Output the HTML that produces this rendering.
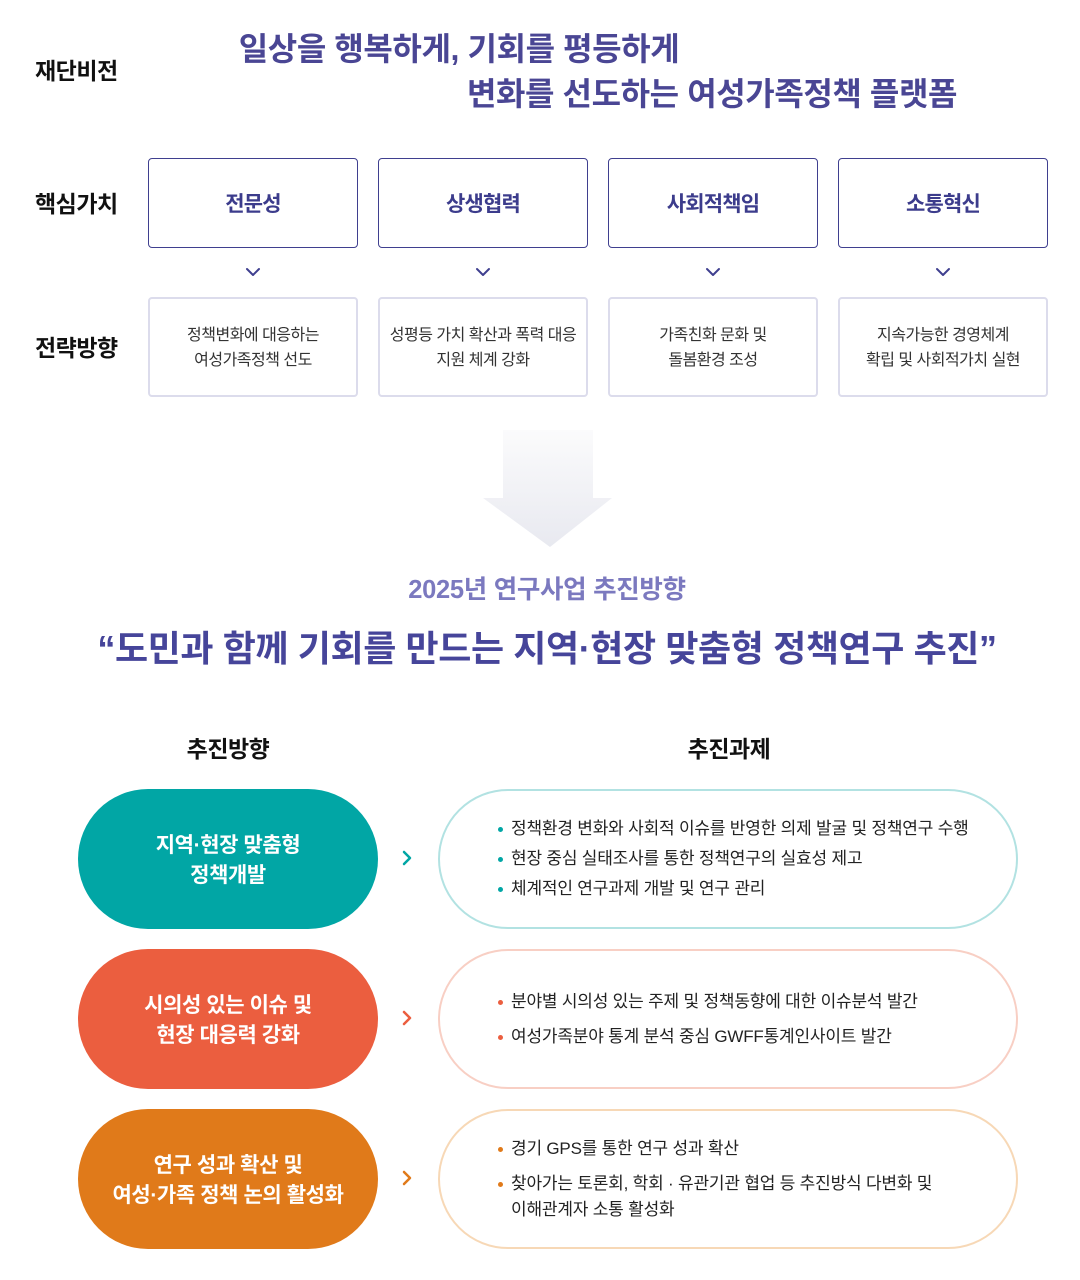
<!DOCTYPE html>
<html><head><meta charset="utf-8"><style>
*{margin:0;padding:0;box-sizing:border-box}
body{width:1080px;height:1280px;background:#fff;position:relative;overflow:hidden;font-family:"Liberation Sans","Noto Sans CJK KR",sans-serif;color:#222}
.a{position:absolute;white-space:nowrap}
.lbl{font-size:23px;font-weight:700;color:#111;letter-spacing:-0.5px;line-height:30px}
.vis{font-size:32px;font-weight:700;color:#4a4694;line-height:40px;text-align:center;letter-spacing:-0.4px}
.vbox{position:absolute;top:158px;width:210px;height:90px;border:1.5px solid #3f3f8f;border-radius:4px;display:flex;align-items:center;justify-content:center;font-size:21px;font-weight:700;color:#3c3c8c;letter-spacing:-0.8px;padding-bottom:1px}
.sbox{position:absolute;top:297px;width:210px;height:100px;border:2px solid #dcdcec;border-radius:4px;text-align:center;font-size:16px;line-height:25px;color:#333;letter-spacing:-0.5px;padding-top:24px}
.pill{position:absolute;left:78px;width:300px;height:140px;border-radius:70px;color:#fff;font-size:21px;font-weight:700;line-height:30px;text-align:center;display:flex;align-items:center;justify-content:center;letter-spacing:-0.4px;padding-top:4px}
.rp{position:absolute;left:438px;width:580px;height:140px;border-radius:70px;border:2px solid}
.li{position:absolute;left:511px;font-size:17px;line-height:24px;color:#222;letter-spacing:-0.2px;white-space:nowrap}
.dot{position:absolute;left:498px;width:5px;height:5px;border-radius:50%}
</style></head><body>

<div class="a lbl" style="left:35px;top:56px">재단비전</div>
<div class="a vis" style="left:159px;width:600px;top:29px">일상을 행복하게, 기회를 평등하게</div>
<div class="a vis" style="left:362px;width:700px;top:74px">변화를 선도하는 여성가족정책 플랫폼</div>

<div class="a lbl" style="left:35px;top:189px">핵심가치</div>
<div class="a lbl" style="left:35px;top:333px">전략방향</div>

<div class="vbox" style="left:148px">전문성</div>
<div class="vbox" style="left:378px">상생협력</div>
<div class="vbox" style="left:608px">사회적책임</div>
<div class="vbox" style="left:838px">소통혁신</div>

<svg class="a" style="left:0;top:0" width="1080" height="600">
<defs><linearGradient id="g" x1="0" y1="0" x2="0" y2="1"><stop offset="0" stop-color="#fbfbfc"/><stop offset="1" stop-color="#e8e9f0"/></linearGradient></defs>
<g fill="none" stroke="#3f3f8f" stroke-width="2" stroke-linecap="round" stroke-linejoin="round">
<polyline points="247,269 253,275 259,269"/>
<polyline points="477,269 483,275 489,269"/>
<polyline points="707,269 713,275 719,269"/>
<polyline points="937,269 943,275 949,269"/>
</g>
<polygon points="503,430 593,430 593,498 612,498 550,547 483,498 503,498" fill="url(#g)"/>
</svg>

<div class="sbox" style="left:148px">정책변화에 대응하는<br>여성가족정책 선도</div>
<div class="sbox" style="left:378px">성평등 가치 확산과 폭력 대응<br>지원 체계 강화</div>
<div class="sbox" style="left:608px">가족친화 문화 및<br>돌봄환경 조성</div>
<div class="sbox" style="left:838px">지속가능한 경영체계<br>확립 및 사회적가치 실현</div>

<div class="a" style="left:247px;width:600px;top:574px;text-align:center;font-size:25.5px;font-weight:700;color:#7b79bf;line-height:32px;letter-spacing:-0.3px">2025년 연구사업 추진방향</div>
<div class="a" style="left:-3px;width:1100px;top:627px;text-align:center;font-size:36px;font-weight:700;color:#46459a;line-height:44px;letter-spacing:-0.4px">“도민과 함께 기회를 만드는 지역·현장 맞춤형 정책연구 추진”</div>

<div class="a lbl" style="left:128px;width:200px;top:734px;text-align:center">추진방향</div>
<div class="a lbl" style="left:629px;width:200px;top:734px;text-align:center">추진과제</div>

<div class="pill" style="top:789px;background:#01a6a5">지역·현장 맞춤형<br>정책개발</div>
<div class="pill" style="top:949px;background:#eb5e3f">시의성 있는 이슈 및<br>현장 대응력 강화</div>
<div class="pill" style="top:1109px;background:#e07a1a">연구 성과 확산 및<br>여성·가족 정책 논의 활성화</div>

<svg class="a" style="left:0;top:0" width="1080" height="1280">
<g fill="none" stroke-width="2.5" stroke-linecap="round" stroke-linejoin="round">
<polyline points="404,852 410,858 404,864" stroke="#01a6a5"/>
<polyline points="404,1012 410,1018 404,1024" stroke="#eb5e3f"/>
<polyline points="404,1172 410,1178 404,1184" stroke="#e07a1a"/>
</g>
</svg>

<div class="rp" style="top:789px;border-color:#b2e2e2"></div>
<div class="rp" style="top:949px;border-color:#f8cfc4"></div>
<div class="rp" style="top:1109px;border-color:#f7d8b6"></div>

<div class="dot" style="top:827px;background:#01a6a5"></div>
<div class="li" style="top:817px">정책환경 변화와 사회적 이슈를 반영한 의제 발굴 및 정책연구 수행</div>
<div class="dot" style="top:857px;background:#01a6a5"></div>
<div class="li" style="top:847px">현장 중심 실태조사를 통한 정책연구의 실효성 제고</div>
<div class="dot" style="top:887px;background:#01a6a5"></div>
<div class="li" style="top:877px">체계적인 연구과제 개발 및 연구 관리</div>

<div class="dot" style="top:1000px;background:#eb5e3f"></div>
<div class="li" style="top:990px">분야별 시의성 있는 주제 및 정책동향에 대한 이슈분석 발간</div>
<div class="dot" style="top:1035px;background:#eb5e3f"></div>
<div class="li" style="top:1025px">여성가족분야 통계 분석 중심 GWFF통계인사이트 발간</div>

<div class="dot" style="top:1147px;background:#e07a1a"></div>
<div class="li" style="top:1137px">경기 GPS를 통한 연구 성과 확산</div>
<div class="dot" style="top:1182px;background:#e07a1a"></div>
<div class="li" style="top:1172px">찾아가는 토론회, 학회 · 유관기관 협업 등 추진방식 다변화 및</div>
<div class="li" style="top:1198px">이해관계자 소통 활성화</div>

</body></html>
